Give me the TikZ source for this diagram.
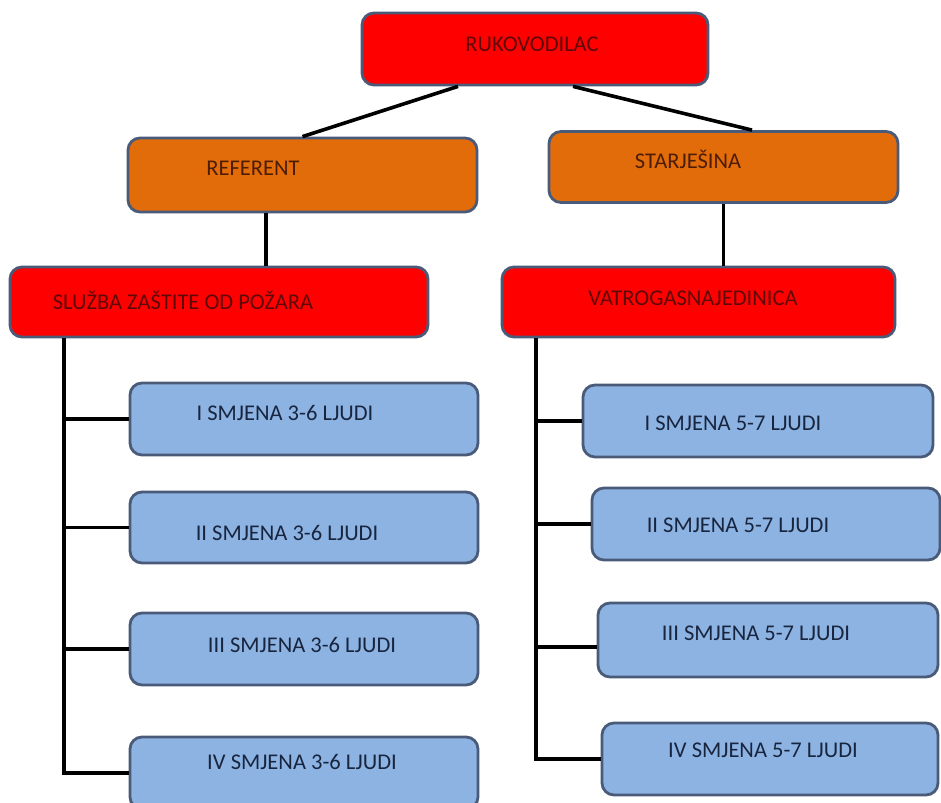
\documentclass[tikz,border=0pt]{standalone}
\usepackage{fontspec}
\setmainfont{Carlito}
\usetikzlibrary{calc}

\definecolor{boxred}{HTML}{FF0000}
\definecolor{boxorange}{HTML}{E36C0A}
\definecolor{boxblue}{HTML}{8DB3E2}
\definecolor{boxedge}{HTML}{4A5B7A}
\definecolor{txtred}{HTML}{5E0808}
\definecolor{txtbrown}{HTML}{4E1D06}
\definecolor{txtblue}{HTML}{18253F}

\tikzset{
	orgbox/.style={draw=boxedge, line width=2.8pt, rounded corners=12pt, inner sep=0pt},
	redbox/.style={orgbox, fill=boxred},
	orangebox/.style={orgbox, fill=boxorange},
	bluebox/.style={orgbox, fill=boxblue},
	boxtext/.style={inner sep=0pt, text height=14pt, text depth=0pt, font=\fontsize{22.5}{25}\selectfont},
	link/.style={line width=3.6pt, black},
}

\begin{document}
\begin{tikzpicture}[x=1pt, y=-1pt]
	\useasboundingbox (0,0) rectangle (941,802);
	% vrh
	\node[redbox, minimum width=346, minimum height=72] (ruk) at (535,49) {};
	\node[boxtext, txtred] (ruk-t) at (532,45) {RUKOVODILAC};
	\node[orangebox, minimum width=349, minimum height=74] (ref) at (302.5,175) {};
	\node[boxtext, txtbrown] (ref-t) at (253,169) {REFERENT};
	\node[orangebox, minimum width=349, minimum height=71] (sta) at (723.5,167) {};
	\node[boxtext, txtbrown] (sta-t) at (688,162) {STARJEŠINA};
	\node[redbox, minimum width=418, minimum height=70] (slu) at (219,302) {};
	\node[boxtext, txtred] (slu-t) at (183,302) {SLUŽBA ZAŠTITE OD POŽARA};
	\node[redbox, minimum width=393, minimum height=70] (vat) at (698.5,302) {};
	\node[boxtext, txtred] (vat-t) at (693,298) {VATROGASNAJEDINICA};
	% smjene, lijevo
	\node[bluebox, minimum width=348, minimum height=72] (l1) at (304,419) {};
	\node[boxtext, txtblue] (l1-t) at (285,413) {I SMJENA 3-6 LJUDI};
	\node[bluebox, minimum width=348, minimum height=71] (l2) at (304,527.5) {};
	\node[boxtext, txtblue] (l2-t) at (287,533) {II SMJENA 3-6 LJUDI};
	\node[bluebox, minimum width=348, minimum height=72] (l3) at (304,649) {};
	\node[boxtext, txtblue] (l3-t) at (302,645) {III SMJENA 3-6 LJUDI};
	\node[bluebox, minimum width=348, minimum height=72] (l4) at (304,773) {};
	\node[boxtext, txtblue] (l4-t) at (302,762) {IV SMJENA 3-6 LJUDI};
	% smjene, desno
	\node[bluebox, minimum width=350, minimum height=72] (r1) at (758,421) {};
	\node[boxtext, txtblue] (r1-t) at (733,423) {I SMJENA 5-7 LJUDI};
	\node[bluebox, minimum width=348, minimum height=72] (r2) at (766,524) {};
	\node[boxtext, txtblue] (r2-t) at (738,525) {II SMJENA 5-7 LJUDI};
	\node[bluebox, minimum width=340, minimum height=74] (r3) at (768,640) {};
	\node[boxtext, txtblue] (r3-t) at (756,633) {III SMJENA 5-7 LJUDI};
	\node[bluebox, minimum width=336, minimum height=72] (r4) at (770,759) {};
	\node[boxtext, txtblue] (r4-t) at (763,750) {IV SMJENA 5-7 LJUDI};

	\path[link]
	(ruk.south -| 458,0) edge (ref.north)
	(ruk.south -| 573,0) edge (sta.north -| 752,0)
	(ref.south -| 266,0) edge (slu.north -| 266,0)
	(sta.south) edge (vat.north -| sta.south);
	\draw[link] (slu.south -| 64,0) |- (l4.west);
	\draw[link] (vat.south -| 536,0) |- (r4.west);
	\foreach \n in {l1,l2,l3}
		\draw[link] (\n.west -| 64,0) -- (\n.west);
	\foreach \n in {r1,r2}
		\draw[link] (\n.west -| 536,0) -- (\n.west);
	\draw[link] ([yshift=-7pt]r3.west -| 536,0) -- ([yshift=-7pt]r3.west);
\end{tikzpicture}
\end{document}
